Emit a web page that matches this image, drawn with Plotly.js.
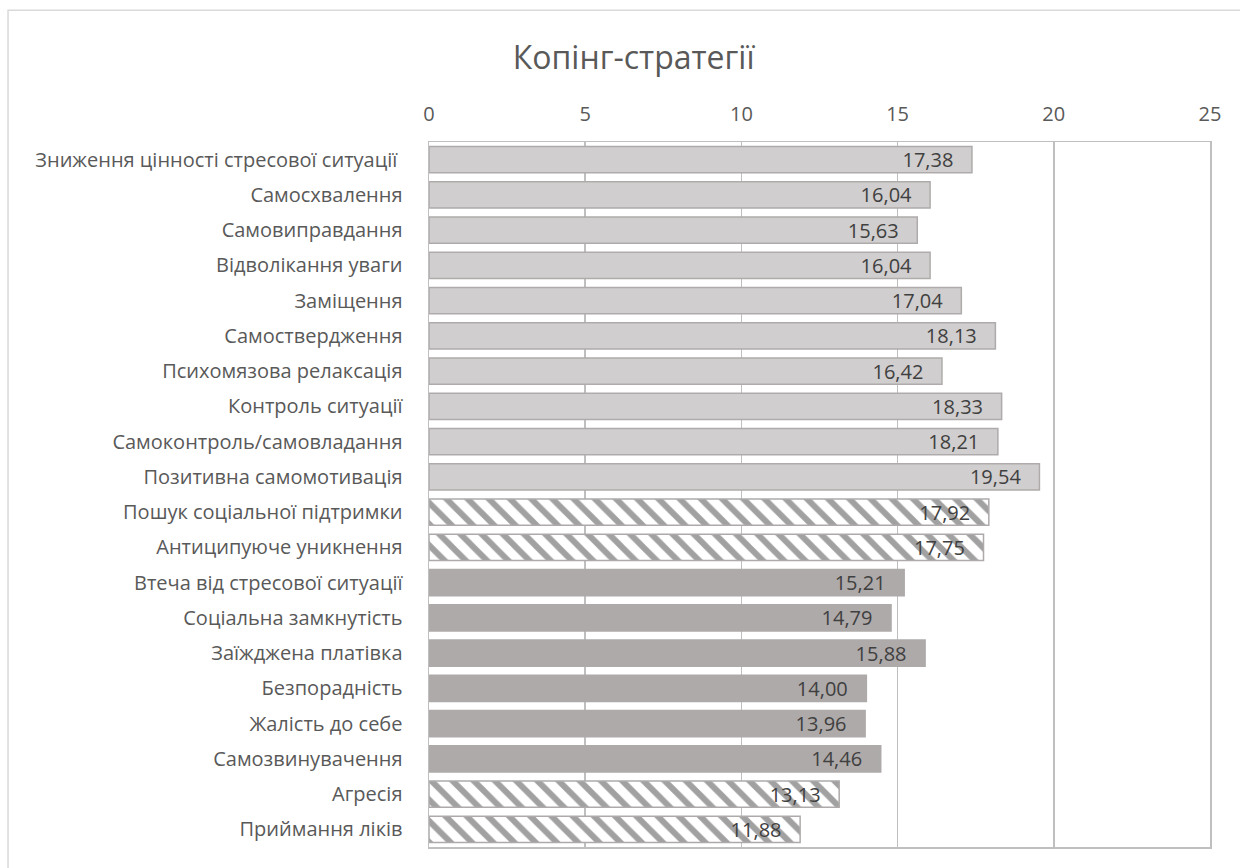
<!DOCTYPE html>
<html>
<head>
<meta charset="utf-8">
<script src="https://cdn.plot.ly/plotly-3.0.1.min.js"></script>
<style>
  html, body { margin: 0; padding: 0; background: #ffffff; }
  #chart { width: 1240px; height: 868px; }
</style>
</head>
<body>
<div id="chart"></div>
<script>
const categories = [
  "Зниження цінності стресової ситуації ",
  "Самосхвалення",
  "Самовиправдання",
  "Відволікання уваги",
  "Заміщення",
  "Самоствердження",
  "Психомязова релаксація",
  "Контроль ситуації",
  "Самоконтроль/самовладання",
  "Позитивна самомотивація",
  "Пошук соціальної підтримки",
  "Антиципуюче уникнення",
  "Втеча від стресової ситуації",
  "Соціальна замкнутість",
  "Заїжджена платівка",
  "Безпорадність",
  "Жалість до себе",
  "Самозвинувачення",
  "Агресія",
  "Приймання ліків"
];
const values = [17.38, 16.04, 15.63, 16.04, 17.04, 18.13, 16.42, 18.33, 18.21, 19.54,
                17.92, 17.75, 15.21, 14.79, 15.88, 14.00, 13.96, 14.46, 13.13, 11.88];
const groups = ["light","light","light","light","light","light","light","light","light","light",
                "hatch","hatch","dark","dark","dark","dark","dark","dark","hatch","hatch"];
const xTicks = [0, 5, 10, 15, 20, 25];
const titleText = "Копінг-стратегії";

const styleOf = {
  light: {fill: "#d0cece", line: "#afabab", shape: "", fg: "#afabab", bg: "#d0cece"},
  dark:  {fill: "#aeaaaa", line: "#aeaaaa", shape: "", fg: "#aeaaaa", bg: "#aeaaaa"},
  hatch: {fill: "#ffffff", line: "#aeaaaa", shape: "\\", fg: "#aeaaaa", bg: "#ffffff"}
};

const font = "'Open Sans', 'Noto Sans', sans-serif";
const pad = "\u00a0\u00a0\u00a0";

const trace = {
  type: "bar",
  orientation: "h",
  y: categories,
  x: values,
  texttemplate: "%{x:.2f}" + pad,
  textposition: "inside",
  insidetextanchor: "end",
  textangle: 0,
  constraintext: "none",
  textfont: {family: font, size: 20, color: "#404040"},
  cliponaxis: false,
  hoverinfo: "skip",
  marker: {
    color: groups.map(g => styleOf[g].fill),
    line: {color: groups.map(g => styleOf[g].line), width: 1.5},
    pattern: {
      shape: groups.map(g => styleOf[g].shape),
      fgcolor: groups.map(g => styleOf[g].fg),
      bgcolor: groups.map(g => styleOf[g].bg),
      fillmode: "overlay",
      size: 15,
      solidity: 0.4
    }
  }
};

const layout = {
  width: 1240,
  height: 868,
  margin: {l: 429, r: 30, t: 142, b: 21},
  paper_bgcolor: "#ffffff",
  plot_bgcolor: "#ffffff",
  separators: ", ",
  showlegend: false,
  bargap: 0.26,
  font: {family: font, color: "#595959"},
  title: {
    text: titleText,
    font: {family: font, size: 32, color: "#595959"},
    xref: "container", x: 0.511, xanchor: "center",
    yref: "container", y: 0.933, yanchor: "middle"
  },
  xaxis: {
    side: "top",
    range: [0, 25],
    tickvals: xTicks,
    ticktext: xTicks.map(String),
    showgrid: true,
    gridcolor: "#bfbfbf",
    gridwidth: 1.5,
    zeroline: false,
    showline: true,
    linecolor: "#bfbfbf",
    linewidth: 1.5,
    mirror: true,
    ticks: "",
    ticklabelstandoff: 12,
    tickfont: {family: font, size: 20, color: "#595959"},
    fixedrange: true
  },
  yaxis: {
    type: "category",
    autorange: "reversed",
    showgrid: false,
    zeroline: false,
    showline: true,
    linecolor: "#bfbfbf",
    linewidth: 1.5,
    mirror: true,
    ticks: "",
    ticklabelstandoff: 21,
    tickfont: {family: font, size: 20, color: "#595959"},
    fixedrange: true
  },
  shapes: [{
    type: "rect", xref: "paper", yref: "paper", layer: "below",
    x0: -0.539, x1: 1.2, y0: -0.2, y1: 1.187,
    line: {color: "#d9d9d9", width: 1.5}, fillcolor: "rgba(0,0,0,0)"
  }]
};

Plotly.newPlot("chart", [trace], layout, {displayModeBar: false, staticPlot: true});
</script>
</body>
</html>
